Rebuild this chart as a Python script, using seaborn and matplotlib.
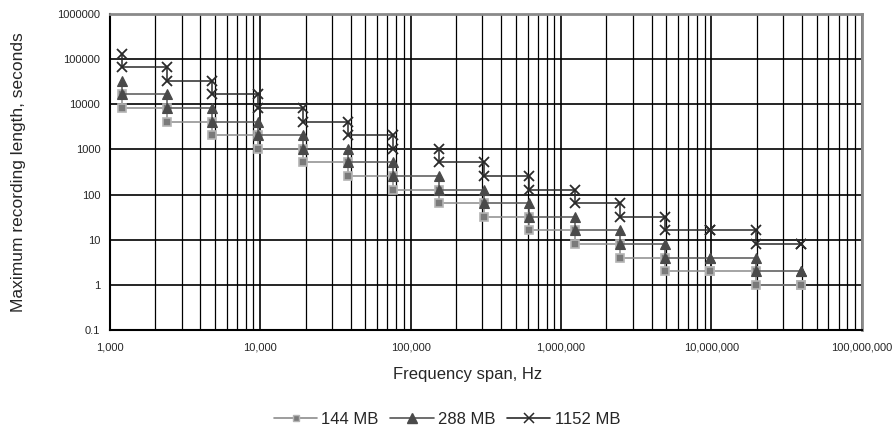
import matplotlib
matplotlib.use("Agg")
import matplotlib.pyplot as plt
from matplotlib.lines import Line2D
from matplotlib.ticker import FixedLocator, FuncFormatter, NullFormatter
import pandas as pd
import seaborn as sns

# =========================
# DATOS
# =========================

# frequency spans (Hz) where the recording length halves
spans = [1200, 2400, 4800, 9600, 19200, 38400, 76800, 153600, 307200,
         614400, 1228800, 2457600, 4915200, 9830400, 19660800, 39321600]

# seconds just before / after each step
mb144_top = [16384, 8192, 4096, 2048, 1024, 512, 256, 128, 64, 32, 16, 8, 4, 2, 2, 1]
mb144_bot = [8192, 4096, 2048, 1024, 512, 256, 128, 64, 32, 16, 8, 4, 2, 2, 1, 1]

mb288_top = [32768, 16384, 8192, 4096, 2048, 1024, 512, 256, 128, 64, 32, 16, 8, 4, 4, 2]
mb288_bot = [16384, 8192, 4096, 2048, 1024, 512, 256, 128, 64, 32, 16, 8, 4, 4, 2, 2]

mb1152_top = [131072, 65536, 32768, 16384, 8192, 4096, 2048, 1024, 512, 256, 128, 64, 32, 16, 16, 8]
mb1152_bot = [65536, 32768, 16384, 8192, 4096, 2048, 1024, 512, 256, 128, 64, 32, 16, 16, 8, 8]

series_names = ["144 MB", "288 MB", "1152 MB"]


def staircase(top, bot):
    xs, ys = [], []
    for x, t, b in zip(spans, top, bot):
        xs += [x, x]
        ys += [t, b]
    return pd.DataFrame({"span": xs, "seconds": ys})


frames = [staircase(mb144_top, mb144_bot),
          staircase(mb288_top, mb288_bot),
          staircase(mb1152_top, mb1152_bot)]

styles = [
    dict(color="#8c8c8c", marker="s", markersize=6, markerfacecolor="#7a7a7a",
         markeredgecolor="#b4b4b4", markeredgewidth=1.2),
    dict(color="#555555", marker="^", markersize=7.5, markerfacecolor="#4a4a4a",
         markeredgecolor="#4a4a4a", markeredgewidth=0.8),
    dict(color="#2a2a2a", marker="x", markersize=7.5, markerfacecolor="#2a2a2a",
         markeredgecolor="#2a2a2a", markeredgewidth=1.3),
]

# =========================
# GRAFICO
# =========================

sns.set_style("white")
plt.rcParams["font.family"] = ["Liberation Sans", "DejaVu Sans"]
narrow = ["Liberation Sans Narrow", "Liberation Sans", "DejaVu Sans"]

fig = plt.figure(figsize=(8.94, 4.32), dpi=100)
ax = fig.add_axes([0.123, 0.236, 0.841, 0.732])

for df, name, st in zip(frames, series_names, styles):
    sns.lineplot(data=df, x="span", y="seconds", sort=False, estimator=None,
                 ax=ax, linewidth=1.1, label=name, legend=False, **st)

ax.set_xscale("log")
ax.set_yscale("log")
ax.set_xlim(1000, 1e8)
ax.set_ylim(0.1, 1e6)

ax.xaxis.set_major_locator(FixedLocator([1e3, 1e4, 1e5, 1e6, 1e7, 1e8]))
ax.xaxis.set_minor_locator(FixedLocator([m * 10 ** e for e in range(3, 8) for m in range(2, 10)]))
ax.yaxis.set_major_locator(FixedLocator([10.0 ** e for e in range(-1, 7)]))
ax.yaxis.set_minor_locator(FixedLocator([m * 10.0 ** e for e in range(-1, 6) for m in range(2, 10)]))
ax.xaxis.set_major_formatter(FuncFormatter(lambda v, p: f"{int(round(v)):,}"))
ax.yaxis.set_major_formatter(FuncFormatter(lambda v, p: "0.1" if v < 1 else f"{int(round(v))}"))
ax.xaxis.set_minor_formatter(NullFormatter())
ax.yaxis.set_minor_formatter(NullFormatter())

ax.grid(True, which="major", axis="both", color="black", linewidth=1.2)
ax.grid(True, which="minor", axis="x", color="black", linewidth=0.9)
ax.set_axisbelow(True)

ax.tick_params(axis="both", which="major", direction="out", length=4, width=1,
               color="black", labelsize=8, pad=3)
ax.tick_params(axis="x", which="major", pad=5)
ax.tick_params(axis="both", which="minor", direction="out", length=2.5, width=0.8,
               color="black")
for lab in ax.get_xticklabels() + ax.get_yticklabels():
    lab.set_family(narrow)

for side in ["left", "bottom"]:
    ax.spines[side].set_color("black")
    ax.spines[side].set_linewidth(1.5)
for side in ["top", "right"]:
    ax.spines[side].set_color("#8a8a8a")
    ax.spines[side].set_linewidth(2)

ax.set_xlabel("Frequency span, Hz", fontsize=12)
ax.xaxis.set_label_coords(0.476, -0.118)
ax.set_ylabel("Maximum recording length, seconds", fontsize=12.5)
ax.yaxis.set_label_coords(-0.112, 0.5)

handles = [
    Line2D([], [], color="#8c8c8c", lw=1.2, marker="s", markersize=5,
           markerfacecolor="#7a7a7a", markeredgecolor="#b4b4b4"),
    Line2D([], [], color="#555555", lw=1.2, marker="^", markersize=7,
           markerfacecolor="#4a4a4a", markeredgecolor="#4a4a4a"),
    Line2D([], [], color="#2a2a2a", lw=1.2, marker="x", markersize=7,
           markeredgewidth=1.1),
]
fig.legend(handles, series_names, loc="center", bbox_to_anchor=(0.5, 0.03),
           ncol=3, frameon=False, handlelength=2.6, handletextpad=0.25,
           columnspacing=0.7, prop={"family": narrow, "size": 12})

fig.savefig("out.png", dpi=100)
